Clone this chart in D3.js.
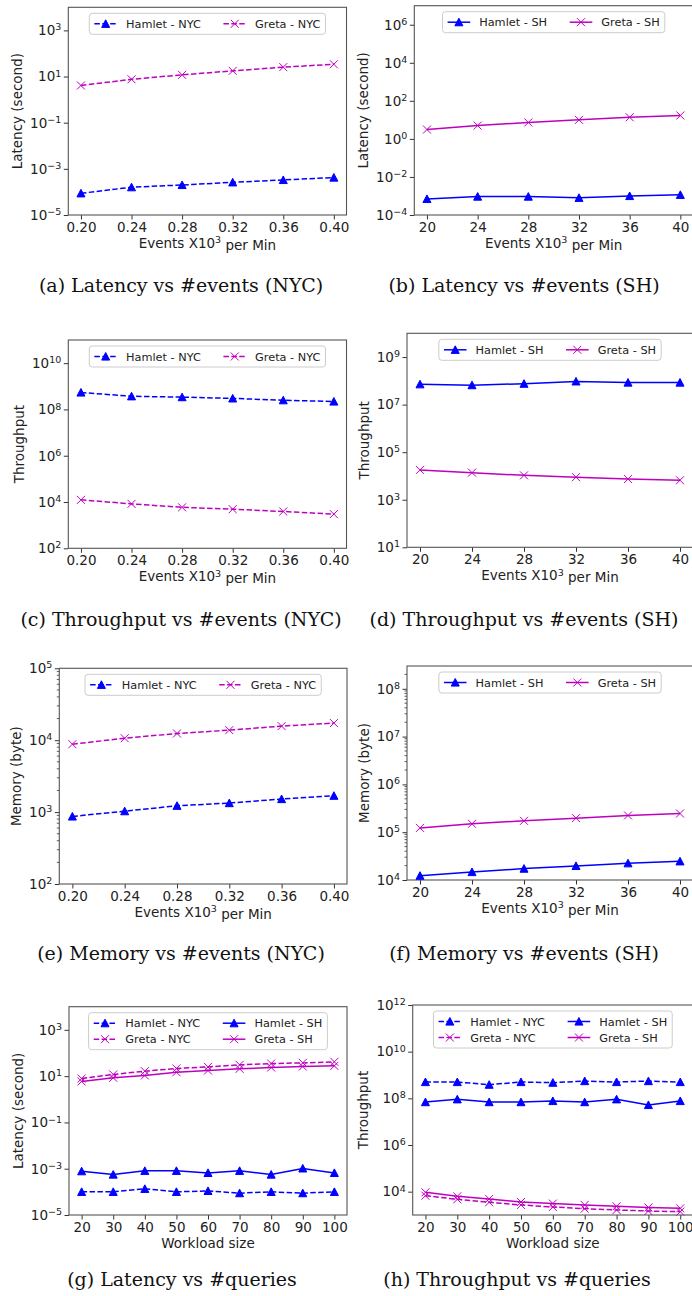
<!DOCTYPE html>
<html>
<head>
<meta charset="utf-8">
<script src="https://cdn.jsdelivr.net/npm/d3@7"></script>
<style>
  body { margin: 0; background: #fff; }
  svg { display: block; }
</style>
</head>
<body>
<svg id="fig" width="692" height="1296"></svg>
<script>
// x values
const eventsNYC = [0.20, 0.24, 0.28, 0.32, 0.36, 0.40];
const eventsSH = [20, 24, 28, 32, 36, 40];
const workload = [20, 30, 40, 50, 60, 70, 80, 90, 100];

// latency (second) vs #events
const latHamletNYC = [8.7e-5, 1.6e-4, 2.0e-4, 2.6e-4, 3.3e-4, 4.2e-4];
const latGretaNYC = [4.1, 7.6, 11.8, 17.6, 25.5, 34];
const latHamletSH = [7e-4, 9.3e-4, 9.3e-4, 8e-4, 1.0e-3, 1.15e-3];
const latGretaSH = [3.1, 5.0, 7.3, 10, 13.7, 17];

// throughput vs #events
const tpHamletNYC = [5.4e8, 3.7e8, 3.4e8, 3.0e8, 2.5e8, 2.2e8];
const tpGretaNYC = [1.24e4, 8.3e3, 5.9e3, 4.9e3, 3.9e3, 3.0e3];
const tpHamletSH = [7.2e7, 6.6e7, 7.6e7, 9.5e7, 8.5e7, 8.5e7];
const tpGretaSH = [1.8e4, 1.38e4, 1.06e4, 8.9e3, 7.4e3, 6.6e3];

// memory (byte) vs #events
const memHamletNYC = [870, 1030, 1225, 1335, 1520, 1690];
const memGretaNYC = [8800, 10660, 12400, 13800, 15700, 17300];
const memHamletSH = [1.23e4, 1.47e4, 1.73e4, 1.97e4, 2.24e4, 2.46e4];
const memGretaSH = [1.23e5, 1.5e5, 1.73e5, 1.97e5, 2.24e5, 2.46e5];

// latency vs #queries
const qLatHamletNYC = [1e-4, 1e-4, 1.35e-4, 1e-4, 1.1e-4, 8.8e-5, 1e-4, 8.8e-5, 1e-4];
const qLatGretaNYC = [7.9, 11.8, 16.4, 21.4, 25, 30.7, 35, 37.4, 41.4];
const qLatHamletSH = [7.8e-4, 5.6e-4, 8.1e-4, 8.1e-4, 6.6e-4, 8.1e-4, 5.6e-4, 1.03e-3, 6.6e-4];
const qLatGretaSH = [5.9, 8.5, 10.7, 14.8, 17.5, 20.7, 23.6, 26.0, 27.8];

// throughput vs #queries
const qTpHamletNYC = [5.0e8, 5.0e8, 3.85e8, 5.0e8, 4.7e8, 5.5e8, 5.0e8, 5.5e8, 5.0e8];
const qTpGretaNYC = [6.7e3, 4.7e3, 3.5e3, 2.7e3, 2.2e3, 1.87e3, 1.64e3, 1.48e3, 1.39e3];
const qTpHamletSH = [6.9e7, 9.1e7, 6.9e7, 6.9e7, 7.7e7, 6.9e7, 9.1e7, 5.2e7, 7.7e7];
const qTpGretaSH = [9.4e3, 6.3e3, 4.9e3, 3.6e3, 3.1e3, 2.7e3, 2.35e3, 2.1e3, 1.93e3];

// y tick exponents (labels are 10^n)
const expLatNYC = [-5, -3, -1, 1, 3];
const expLatSH = [-4, -2, 0, 2, 4, 6];
const expTpNYC = [2, 4, 6, 8, 10];
const expTpSH = [1, 3, 5, 7, 9];
const expMemNYC = [2, 3, 4, 5];
const expMemSH = [4, 5, 6, 7, 8];
const expQLat = [-5, -3, -1, 1, 3];
const expQTp = [4, 6, 8, 10, 12];

const BLUE = '#0000ff';
const MAG = '#bf00bf';

function s(label, values, dashed) {
	const hamlet = label.startsWith('Hamlet');
	return { label, values, dashed, color: hamlet ? BLUE : MAG, marker: hamlet ? 'tri' : 'x' };
}

const panels = [
	{ caption: '(a) Latency vs #events (NYC)', xs: eventsNYC, xFmt: '.2f', xDomain: [0.19, 0.41],
		yDomain: [1e-5, 1e4], exps: expLatNYC, yLabel: 'Latency (second)', xLabel: 'events',
		box: [68.3, 7.3, 346.5, 215], cap: [181, 292],
		series: [s('Hamlet - NYC', latHamletNYC, true), s('Greta - NYC', latGretaNYC, true)] },
	{ caption: '(b) Latency vs #events (SH)', xs: eventsSH, xFmt: 'd', xDomain: [19, 41],
		yDomain: [1e-4, 1e7], exps: expLatSH, yLabel: 'Latency (second)', xLabel: 'events',
		box: [414.3, 5.7, 693, 215], cap: [524, 292],
		series: [s('Hamlet - SH', latHamletSH, false), s('Greta - SH', latGretaSH, false)] },
	{ caption: '(c) Throughput vs #events (NYC)', xs: eventsNYC, xFmt: '.2f', xDomain: [0.19, 0.41],
		yDomain: [1e2, 1e11], exps: expTpNYC, yLabel: 'Throughput', xLabel: 'events',
		box: [68.3, 340, 346.5, 548.3], cap: [181, 626],
		series: [s('Hamlet - NYC', tpHamletNYC, true), s('Greta - NYC', tpGretaNYC, true)] },
	{ caption: '(d) Throughput vs #events (SH)', xs: eventsSH, xFmt: 'd', xDomain: [19, 41],
		yDomain: [1e1, 1e10], exps: expTpSH, yLabel: 'Throughput', xLabel: 'events',
		box: [407, 333.3, 693, 547.3], cap: [524, 626],
		series: [s('Hamlet - SH', tpHamletSH, false), s('Greta - SH', tpGretaSH, false)] },
	{ caption: '(e) Memory vs #events (NYC)', xs: eventsNYC, xFmt: '.2f', xDomain: [0.19, 0.41],
		yDomain: [1e2, 1e5], exps: expMemNYC, yLabel: 'Memory (byte)', xLabel: 'events', minor: true,
		box: [59.3, 668.3, 347, 884], cap: [181, 960],
		series: [s('Hamlet - NYC', memHamletNYC, true), s('Greta - NYC', memGretaNYC, true)] },
	{ caption: '(f) Memory vs #events (SH)', xs: eventsSH, xFmt: 'd', xDomain: [19, 41],
		yDomain: [1e4, 3e8], exps: expMemSH, yLabel: 'Memory (byte)', xLabel: 'events', minor: true,
		box: [407, 666, 693, 880], cap: [524, 960],
		series: [s('Hamlet - SH', memHamletSH, false), s('Greta - SH', memGretaSH, false)] },
	{ caption: '(g) Latency vs #queries', xs: workload, xFmt: 'd', xDomain: [16, 104],
		yDomain: [1e-5, 1e4], exps: expQLat, yLabel: 'Latency (second)', xLabel: 'Workload size',
		box: [69, 1006.7, 347, 1215], cap: [182, 1286],
		series: [s('Hamlet - NYC', qLatHamletNYC, true), s('Greta - NYC', qLatGretaNYC, true),
			s('Hamlet - SH', qLatHamletSH, false), s('Greta - SH', qLatGretaSH, false)] },
	{ caption: '(h) Throughput vs #queries', xs: workload, xFmt: 'd', xDomain: [16, 104],
		yDomain: [1e3, 1e12], exps: expQTp, yLabel: 'Throughput', xLabel: 'Workload size',
		box: [412.7, 1005, 693, 1215], cap: [517, 1286],
		series: [s('Hamlet - NYC', qTpHamletNYC, true), s('Greta - NYC', qTpGretaNYC, true),
			s('Hamlet - SH', qTpHamletSH, false), s('Greta - SH', qTpGretaSH, false)] }
];

const svg = d3.select('#fig');
svg.append('rect').attr('width', 692).attr('height', 1296).attr('fill', '#fff');

const FONT = 'DejaVu Sans, sans-serif';
const TICK_FS = 13.5;
const LEG_FS = 11.3;

function supNum(e) {
	return e < 0 ? '\u2212' + Math.abs(e) : String(e);
}

function drawMarker(g, type, color) {
	if (type === 'tri') {
		g.append('path')
			.attr('d', 'M0,-4L4,3.6L-4,3.6Z')
			.attr('fill', color)
			.attr('stroke', color)
			.attr('stroke-width', 1)
			.attr('stroke-linejoin', 'miter');
	} else {
		g.append('path')
			.attr('d', 'M-4,-4L4,4M-4,4L4,-4')
			.attr('fill', 'none')
			.attr('stroke', color)
			.attr('stroke-width', 1);
	}
}

function drawPanel(p) {
	const [left, top, right, bottom] = p.box;
	const g = svg.append('g');

	const x = d3.scaleLinear().domain(p.xDomain).range([left, right]);
	const y = d3.scaleLog().domain(p.yDomain).range([bottom, top]);

	// minor ticks
	if (p.minor) {
		const minors = [];
		const lo = Math.floor(Math.log10(p.yDomain[0]));
		const hi = Math.ceil(Math.log10(p.yDomain[1]));
		for (let k = lo; k <= hi; k++) {
			for (let d = 2; d <= 9; d++) {
				const v = d * Math.pow(10, k);
				if (v > p.yDomain[0] && v < p.yDomain[1]) minors.push(v);
			}
		}
		g.append('g')
			.selectAll('line')
			.data(minors)
			.enter()
			.append('line')
			.attr('x1', left - 2.5)
			.attr('x2', left)
			.attr('y1', d => y(d))
			.attr('y2', d => y(d))
			.attr('stroke', '#333')
			.attr('stroke-width', 0.8);
	}

	// x axis
	const xAxis = g.append('g')
		.attr('transform', 'translate(0,' + bottom + ')')
		.call(d3.axisBottom(x).tickValues(p.xs).tickFormat(d3.format(p.xFmt)).tickSize(4.5).tickPadding(2.5));
	xAxis.select('.domain').remove();
	xAxis.selectAll('.tick line').attr('stroke', '#333');
	xAxis.selectAll('.tick text')
		.attr('fill', '#222')
		.style('font', TICK_FS + 'px ' + FONT);

	// y axis
	const yAxis = g.append('g')
		.attr('transform', 'translate(' + left + ',0)')
		.call(d3.axisLeft(y).tickValues(p.exps.map(e => Math.pow(10, e))).tickFormat(() => '').tickSize(4.5).tickPadding(2.5));
	yAxis.select('.domain').remove();
	yAxis.selectAll('.tick line').attr('stroke', '#333');
	yAxis.selectAll('.tick text')
		.attr('fill', '#222')
		.style('font', TICK_FS + 'px ' + FONT)
		.each(function(d, i) {
			const t = d3.select(this);
			t.text('10');
			t.append('tspan')
				.attr('dy', '-0.5em')
				.style('font-size', '9.5px')
				.text(supNum(p.exps[i]));
		});

	// frame
	g.append('rect')
		.attr('x', left)
		.attr('y', top)
		.attr('width', right - left)
		.attr('height', bottom - top)
		.attr('fill', 'none')
		.attr('stroke', '#555')
		.attr('stroke-width', 1.1);

	// axis labels
	const cx = (left + right) / 2;
	const xl = g.append('text')
		.attr('x', cx)
		.attr('y', bottom + 33)
		.attr('text-anchor', 'middle')
		.attr('fill', '#222')
		.style('font', TICK_FS + 'px ' + FONT);
	if (p.xLabel === 'events') {
		xl.append('tspan').text('Events X10');
		xl.append('tspan').attr('dy', '-0.5em').style('font-size', '9.5px').text('3');
		xl.append('tspan').attr('dy', '0.5em').text(' per Min');
	} else {
		xl.text(p.xLabel);
	}

	const tickBox = yAxis.node().getBBox();
	const lx = tickBox.x + left - 8;
	g.append('text')
		.attr('transform', 'translate(' + lx + ',' + (top + bottom) / 2 + ') rotate(-90)')
		.attr('text-anchor', 'middle')
		.attr('fill', '#222')
		.style('font', TICK_FS + 'px ' + FONT)
		.text(p.yLabel);

	// lines
	const line = d3.line()
		.x((d, i) => x(p.xs[i]))
		.y(d => y(d));

	p.series.forEach(sr => {
		const sg = g.append('g');
		sg.append('path')
			.attr('d', line(sr.values))
			.attr('fill', 'none')
			.attr('stroke', sr.color)
			.attr('stroke-width', 1.5)
			.attr('stroke-dasharray', sr.dashed ? '5.5,2.4' : null);
		sr.values.forEach((v, i) => {
			const mg = sg.append('g').attr('transform', 'translate(' + x(p.xs[i]) + ',' + y(v) + ')');
			drawMarker(mg, sr.marker, sr.color);
		});
	});

	// legend (2 columns, column-major like matplotlib)
	const nRows = Math.ceil(p.series.length / 2);
	const lg = g.append('g');
	const boxRect = lg.append('rect');
	const cols = [p.series.slice(0, nRows), p.series.slice(nRows)];
	const handleLen = 2 * LEG_FS;
	const textPad = 0.8 * LEG_FS;
	const colSpace = 2 * LEG_FS;
	const pad = 0.45 * LEG_FS;
	const rowH = 16;
	const boxTop = top + 6;
	let cursor = 0;
	const entries = [];
	cols.forEach(col => {
		let maxW = 0;
		col.forEach((sr, r) => {
			const eg = lg.append('g');
			const ty = boxTop + 10.5 + r * rowH;
			const t = eg.append('text')
				.attr('y', ty)
				.attr('dy', '0.36em')
				.attr('fill', '#222')
				.style('font', LEG_FS + 'px ' + FONT)
				.text(sr.label);
			maxW = Math.max(maxW, t.node().getComputedTextLength());
			entries.push({ eg, t, sr, ty, colStart: cursor });
		});
		entries.filter(e => e.colStart === cursor).forEach(e => { e.colW = maxW; });
		cursor += handleLen + textPad + maxW + colSpace;
	});
	const innerW = cursor - colSpace;
	const boxW = innerW + 2 * pad;
	const boxLeft = cx - boxW / 2;
	entries.forEach(e => {
		const hx = boxLeft + pad + e.colStart;
		e.eg.append('line')
			.attr('x1', hx)
			.attr('x2', hx + handleLen)
			.attr('y1', e.ty)
			.attr('y2', e.ty)
			.attr('stroke', e.sr.color)
			.attr('stroke-width', 1.5)
			.attr('stroke-dasharray', e.sr.dashed ? '5.5,2.4' : null);
		const mg = e.eg.append('g').attr('transform', 'translate(' + (hx + handleLen / 2) + ',' + e.ty + ')');
		drawMarker(mg, e.sr.marker, e.sr.color);
		e.t.attr('x', hx + handleLen + textPad);
	});
	boxRect
		.attr('x', boxLeft)
		.attr('y', boxTop)
		.attr('width', boxW)
		.attr('height', 5 + nRows * rowH)
		.attr('rx', 3)
		.attr('fill', '#fff')
		.attr('fill-opacity', 0.8)
		.attr('stroke', '#ccc')
		.attr('stroke-width', 1);

	// caption
	svg.append('text')
		.attr('x', p.cap[0])
		.attr('y', p.cap[1])
		.attr('text-anchor', 'middle')
		.attr('fill', '#111')
		.style('font', '19px DejaVu Serif, serif')
		.text(p.caption);
}

panels.forEach(drawPanel);
</script>
</body>
</html>
